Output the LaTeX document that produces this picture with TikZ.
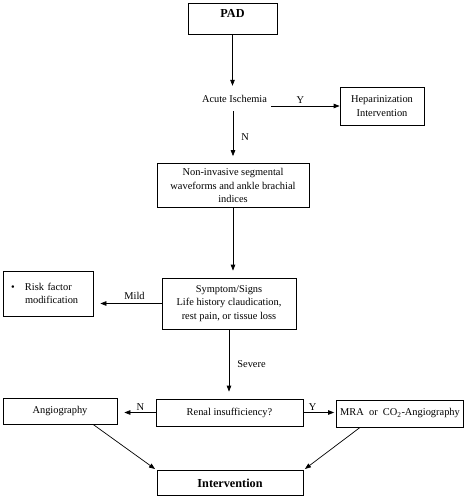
\documentclass[tikz,border=0pt]{standalone}
\usepackage{fontspec}
\setmainfont{Liberation Serif}
\usetikzlibrary{arrows.meta}
\newcommand{\myfs}{\fontsize{10.4pt}{13.3pt}\selectfont}
\newcommand{\mybf}{\fontsize{12.2pt}{14pt}\selectfont\bfseries}
\begin{document}
\begin{tikzpicture}[x=1pt,y=-1pt,
  box/.style={draw, line width=0.7pt, inner sep=0pt, align=center, font=\myfs},
  plain/.style={inner sep=0pt, align=center, font=\myfs},
  arr/.style={-{Triangle[length=6pt,width=4.5pt]}, line width=0.7pt},
  lbl/.style={font=\myfs, inner sep=2pt}]
\useasboundingbox (0,0) rectangle (468,500);
\node[box, minimum width=89pt, minimum height=31pt, font=\mybf, text height=8pt, text depth=9pt] (pad) at (232.5,18.5) {PAD};
\node[plain, inner xsep=4pt, minimum height=25pt] (acute) at (234.5,98.5) {Acute Ischemia};
\node[box, minimum width=84pt, minimum height=38pt] (hep) at (382,106) {Heparinization\\Intervention};
\node[box, minimum width=152pt, minimum height=44pt] (noninv) at (233,185.5) {Non-invasive segmental\\waveforms and ankle brachial\\indices};
\node[box, minimum width=134pt, minimum height=51pt] (symp) at (229,303.5) {Symptom/Signs\\Life history claudication,\\rest pain, or tissue loss};
\node[box, align=left, text width=74pt, inner xsep=8pt, minimum height=45pt] (risk) at (48,293.5) {\makebox[14pt][l]{\textbullet}Risk factor\\\hspace*{14pt}modification};
\node[box, minimum width=147pt, minimum height=27pt] (renal) at (229.5,412.5) {Renal insufficiency?};
\node[box, minimum width=114pt, minimum height=25.5pt] (angio) at (60,411.5) {Angiography};
\node[box, minimum width=127pt, minimum height=27pt] (mra) at (400,413.5) {MRA\ \ or\ \ CO\textsubscript{2}-Angiography};
\node[box, minimum width=146pt, minimum height=25pt, font=\mybf] (interv) at (230,483) {Intervention};

\draw[arr] (pad.south) -- (pad.south |- acute.north);
\draw[arr] (acute.east |- hep.west) -- node[lbl, above, xshift=-5pt] {Y} (hep.west);
\draw[arr, shorten >=7pt] (acute.south -| noninv.north) -- node[lbl, right, xshift=6pt] {N} (noninv.north);
\draw[arr, shorten >=7pt] (noninv.south) -- (noninv.south |- symp.north);
\draw[arr, shorten >=7pt] (symp.west) -- node[lbl, above, xshift=7pt, yshift=2pt] {Mild} (symp.west -| risk.east);
\draw[arr, shorten >=7pt] (symp.south) -- node[lbl, right, xshift=6pt] {Severe} (symp.south |- renal.north);
\draw[arr, shorten >=7pt] (renal.west) -- node[lbl, above, xshift=4pt] {N} (renal.west -| angio.east);
\draw[arr, shorten >=2pt] (renal.east) -- node[lbl, above, xshift=-7pt] {Y} (renal.east -| mra.west);
\draw[arr, shorten >=2pt] ([xshift=-24pt]angio.south east) -- (interv.north west);
\draw[arr, shorten >=2pt] ([xshift=24pt]mra.south west) -- (interv.north east);
\end{tikzpicture}
\end{document}
